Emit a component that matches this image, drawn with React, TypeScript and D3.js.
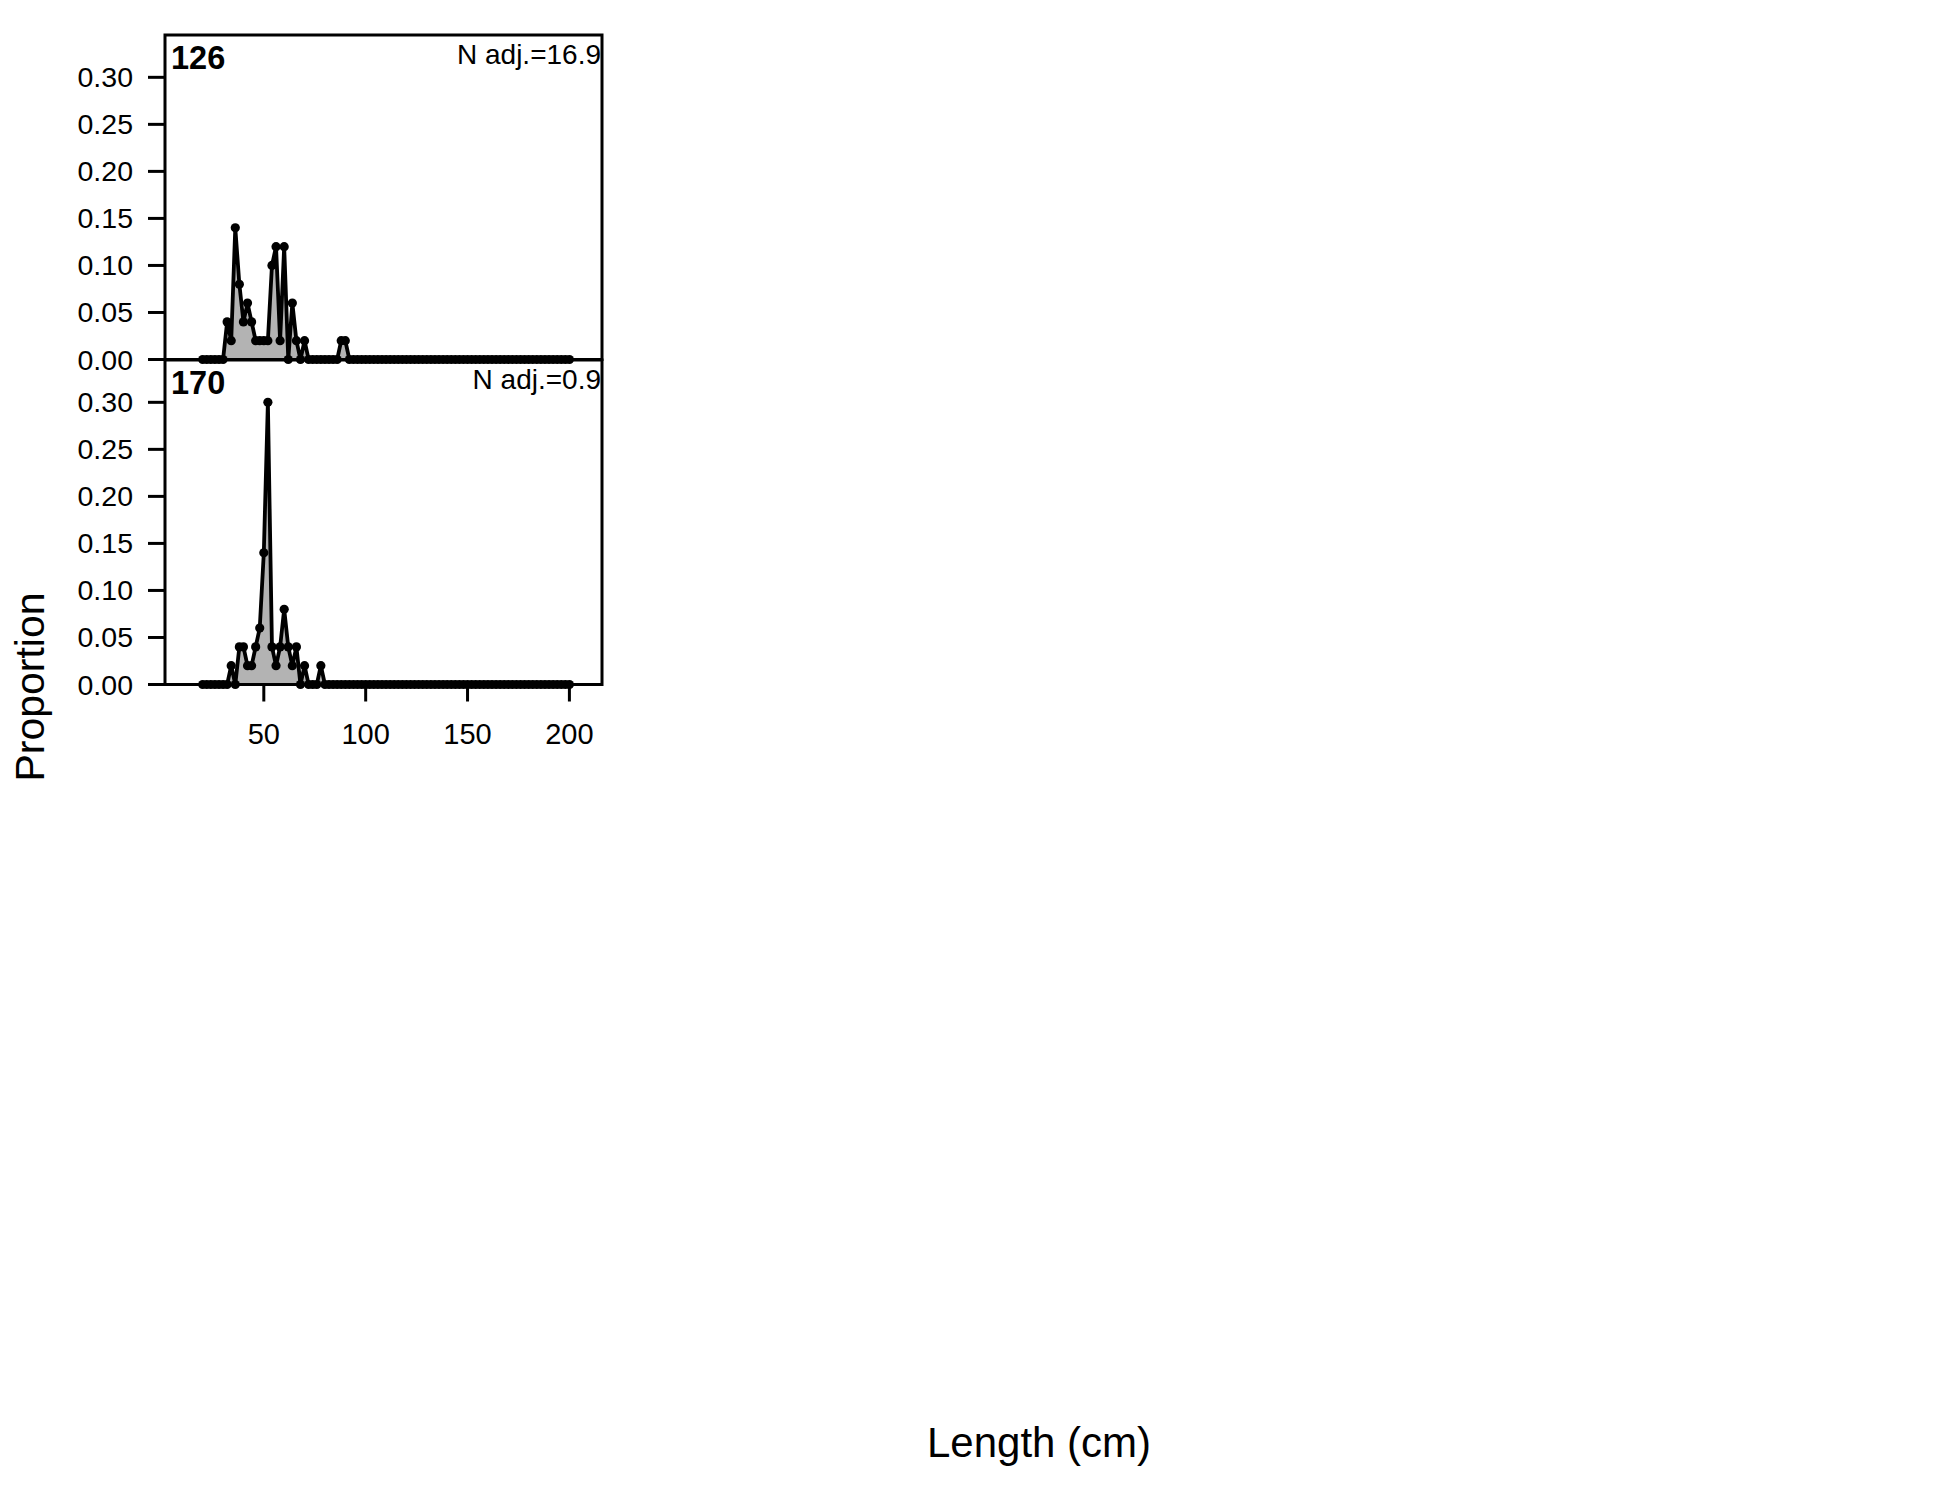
import React from "react";
import * as d3 from "d3";

// Length bins (cm)
const lengthBins: number[] = [
  20, 22, 24, 26, 28, 30, 32, 34, 36, 38,
  40, 42, 44, 46, 48, 50, 52, 54, 56, 58,
  60, 62, 64, 66, 68, 70, 72, 74, 76, 78,
  80, 82, 84, 86, 88, 90, 92, 94, 96, 98,
  100, 102, 104, 106, 108, 110, 112, 114, 116, 118,
  120, 122, 124, 126, 128, 130, 132, 134, 136, 138,
  140, 142, 144, 146, 148, 150, 152, 154, 156, 158,
  160, 162, 164, 166, 168, 170, 172, 174, 176, 178,
  180, 182, 184, 186, 188, 190, 192, 194, 196, 198,
  200,
];

const prop126: number[] = [
  0, 0, 0, 0, 0, 0, 0.04, 0.02, 0.14, 0.08,
  0.04, 0.06, 0.04, 0.02, 0.02, 0.02, 0.02, 0.1, 0.12, 0.02,
  0.12, 0, 0.06, 0.02, 0, 0.02, 0, 0, 0, 0,
  0, 0, 0, 0, 0.02, 0.02, 0, 0, 0, 0,
  0, 0, 0, 0, 0, 0, 0, 0, 0, 0,
  0, 0, 0, 0, 0, 0, 0, 0, 0, 0,
  0, 0, 0, 0, 0, 0, 0, 0, 0, 0,
  0, 0, 0, 0, 0, 0, 0, 0, 0, 0,
  0, 0, 0, 0, 0, 0, 0, 0, 0, 0,
  0,
];

const prop170: number[] = [
  0, 0, 0, 0, 0, 0, 0, 0.02, 0, 0.04,
  0.04, 0.02, 0.02, 0.04, 0.06, 0.14, 0.3, 0.04, 0.02, 0.04,
  0.08, 0.04, 0.02, 0.04, 0, 0.02, 0, 0, 0, 0.02,
  0, 0, 0, 0, 0, 0, 0, 0, 0, 0,
  0, 0, 0, 0, 0, 0, 0, 0, 0, 0,
  0, 0, 0, 0, 0, 0, 0, 0, 0, 0,
  0, 0, 0, 0, 0, 0, 0, 0, 0, 0,
  0, 0, 0, 0, 0, 0, 0, 0, 0, 0,
  0, 0, 0, 0, 0, 0, 0, 0, 0, 0,
  0,
];

const panelLabels: string[] = ["126", "170"];
const nAdjLabels: string[] = ["N adj.=16.9", "N adj.=0.9"];
const yTicks: number[] = [0, 0.05, 0.1, 0.15, 0.2, 0.25, 0.3];
const xTicks: number[] = [50, 100, 150, 200];

const FONT = "'Liberation Sans', Arial, Helvetica, sans-serif";

export default function App() {
  const W = 1950;
  const H = 1500;
  const left = 165;
  const right = 602;
  const panelTops = [35, 360];
  const panelH = 324.5;

  const x = d3.scaleLinear().domain([1.5, 216]).range([left, right]);
  const series = [prop126, prop170];

  return (
    <svg
      width={W}
      height={H}
      viewBox={`0 0 ${W} ${H}`}
      style={{ position: "absolute", left: 0, top: 0, background: "#fff" }}
    >
      <rect x={0} y={0} width={W} height={H} fill="#fff" />
      {series.map((vals, pi) => {
        const top = panelTops[pi];
        const bottom = top + panelH;
        const y = d3.scaleLinear().domain([0, 0.345]).range([bottom, top]);
        const pts: [number, number][] = lengthBins.map((b, i) => [x(b), y(vals[i])]);
        const area = d3
          .area<[number, number]>()
          .x((d) => d[0])
          .y0(y(0))
          .y1((d) => d[1]);
        const line = d3
          .line<[number, number]>()
          .x((d) => d[0])
          .y((d) => d[1]);
        return (
          <g key={pi}>
            <path d={area(pts) || ""} fill="#b3b3b3" stroke="none" />
            <path d={line(pts) || ""} fill="none" stroke="#000" strokeWidth={3.8} strokeLinejoin="round" />
            {pts.map((p, i) => (
              <circle key={i} cx={p[0]} cy={p[1]} r={4.6} fill="#000" />
            ))}
            <rect
              x={left}
              y={top}
              width={right - left}
              height={panelH}
              fill="none"
              stroke="#000"
              strokeWidth={3}
            />
            {yTicks.map((t) => (
              <g key={t}>
                <line x1={left - 17} x2={left} y1={y(t)} y2={y(t)} stroke="#000" strokeWidth={3} />
                <text
                  x={133}
                  y={y(t) + 10}
                  textAnchor="end"
                  fontFamily={FONT}
                  fontSize={28.5}
                  fill="#000"
                >
                  {d3.format(".2f")(t)}
                </text>
              </g>
            ))}
            <text
              x={171}
              y={top + 33.5}
              fontFamily={FONT}
              fontSize={32.5}
              fontWeight="bold"
              fill="#000"
            >
              {panelLabels[pi]}
            </text>
            <text
              x={601}
              y={top + 28.5}
              textAnchor="end"
              fontFamily={FONT}
              fontSize={28}
              fill="#000"
            >
              {nAdjLabels[pi]}
            </text>
            {pi === series.length - 1 &&
              xTicks.map((t) => (
                <g key={t}>
                  <line x1={x(t)} x2={x(t)} y1={bottom} y2={bottom + 17} stroke="#000" strokeWidth={3} />
                  <text
                    x={x(t)}
                    y={744}
                    textAnchor="middle"
                    fontFamily={FONT}
                    fontSize={29}
                    fill="#000"
                  >
                    {t}
                  </text>
                </g>
              ))}
          </g>
        );
      })}
      <text
        x={1039}
        y={1457}
        textAnchor="middle"
        fontFamily={FONT}
        fontSize={42}
        fill="#000"
      >
        Length (cm)
      </text>
      <text
        transform={`translate(44,687) rotate(-90)`}
        textAnchor="middle"
        fontFamily={FONT}
        fontSize={41}
        fill="#000"
      >
        Proportion
      </text>
    </svg>
  );
}
